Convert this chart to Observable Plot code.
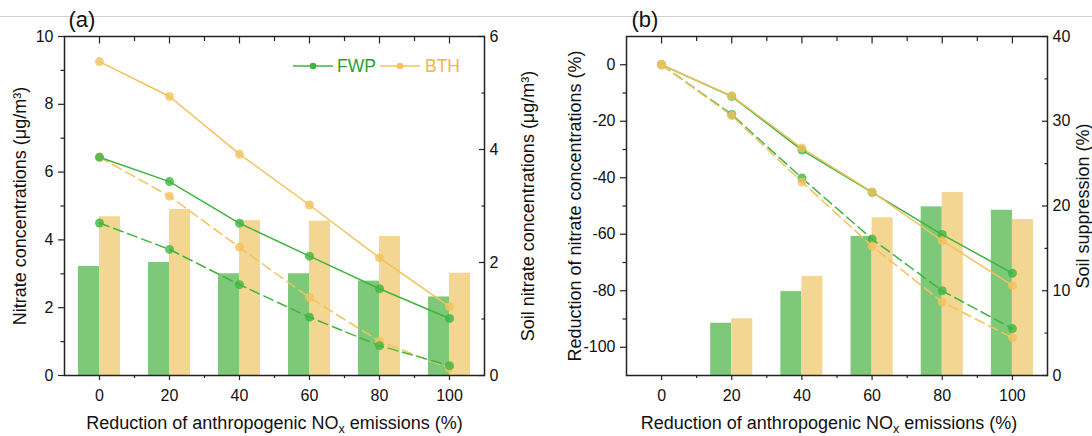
<!DOCTYPE html>
<html>
<head>
<meta charset="utf-8">
<script src="https://cdn.jsdelivr.net/npm/d3@7"></script>
<script src="https://cdn.jsdelivr.net/npm/@observablehq/plot@0.6"></script>
<style>
  body { margin: 0; background: #fff; }
  #wrap { position: relative; width: 1092px; height: 436px; overflow: hidden; background: #fff;
          font-family: 'Liberation Sans', Arial, sans-serif; }
  #topline { position: absolute; left: 0; top: 16px; width: 1092px; height: 1px; background: #cfcfcf; }
</style>
</head>
<body>
<div id="wrap"><div id="topline"></div></div>
<script>
// ---------------- data ----------------
const seriesNames = ["FWP", "BTH"];
const reduction = [0, 20, 40, 60, 80, 100];

// panel (a): nitrate concentrations (µg/m3), left axis
const fwpSolidA = [6.44, 5.72, 4.49, 3.52, 2.56, 1.68];
const bthSolidA = [9.26, 8.23, 6.53, 5.03, 3.47, 2.03];
const fwpDashA  = [4.50, 3.72, 2.68, 1.72, 0.88, 0.29];
const bthDashA  = [6.44, 5.29, 3.78, 2.30, 1.01, 0.22];
// panel (a): soil nitrate concentrations (µg/m3), right axis (bars)
const fwpSoilA  = [1.93, 2.00, 1.80, 1.80, 1.67, 1.39];
const bthSoilA  = [2.81, 2.94, 2.74, 2.73, 2.46, 1.81];

// panel (b): reduction of nitrate concentrations (%), left axis
const fwpSolidB = [0, -11.2, -30.2, -45.2, -60.1, -73.8];
const bthSolidB = [0, -11.0, -29.5, -45.0, -62.3, -78.1];
const fwpDashB  = [0, -17.6, -40.1, -61.7, -80.0, -93.4];
const bthDashB  = [0, -18.0, -41.5, -64.2, -84.0, -96.6];
// panel (b): soil suppression (%), right axis (bars)
const fwpSuppB  = [0, 6.17, 9.9, 16.4, 19.9, 19.5];
const bthSuppB  = [0, 6.69, 11.7, 18.6, 21.6, 18.4];

// ticks
const xTicks = [0, 20, 40, 60, 80, 100];
const xMinor = [10, 30, 50, 70, 90];
const yTicksA = [0, 2, 4, 6, 8, 10], yMinorA = [1, 3, 5, 7, 9];
const yRTicksA = [0, 2, 4, 6], yRMinorA = [1, 3, 5];
const yTicksB = [0, -20, -40, -60, -80, -100], yMinorB = [-10, -30, -50, -70, -90];
const yRTicksB = [0, 10, 20, 30, 40], yRMinorB = [5, 15, 25, 35];

// ---------------- style ----------------
const W = 1092, H = 436, MT = 36, MB = 61;
const FONT = "'Liberation Sans', Arial, sans-serif";
const GREEN = "#3fb540", YELLOW = "#f2c25e";
const GREEN_BAR = "#7ec87a", YELLOW_BAR = "#f4d693";
const GREEN_TXT = "#2ca02c", YELLOW_TXT = "#efb73e";
const INK = "#222";
const BARW = 6;
const TICKFS = 16, TITLEFS = 18;
const fmt = d => String(d);

const wrap = document.getElementById("wrap");
const tbl = (vals) => reduction.map((x, i) => ({x, v: vals[i]}));

function layer(ml, mr, yDomain, marks, extraX = {}) {
  const svg = Plot.plot({
    width: W, height: H,
    marginTop: MT, marginBottom: MB, marginLeft: ml, marginRight: mr,
    x: {domain: [-10, 110], ...extraX},
    y: {domain: yDomain},
    style: {fontFamily: FONT, fontSize: "16px", color: "#111", background: "transparent", overflow: "visible"},
    marks
  });
  svg.style.position = "absolute";
  svg.style.left = "0px";
  svg.style.top = "0px";
  wrap.appendChild(svg);
  return svg;
}

function panel(cfg) {
  // back layer: bars on right axis
  layer(cfg.ml, cfg.mr, cfg.yR, [
    Plot.rectY(tbl(cfg.barsG), {x1: d => d.x - BARW, x2: d => d.x, y1: 0, y2: d => d.v, fill: GREEN_BAR}),
    Plot.rectY(tbl(cfg.barsY), {x1: d => d.x, x2: d => d.x + BARW, y1: 0, y2: d => d.v, fill: YELLOW_BAR}),
    Plot.axisY({anchor: "right", ticks: cfg.yRTicks, tickSize: -6, fill: "none", stroke: INK, strokeWidth: 1.2}),
    Plot.axisY({anchor: "right", ticks: cfg.yRMinor, tickSize: -3.5, fill: "none", stroke: INK, strokeWidth: 1.2}),
    Plot.axisY({anchor: "right", ticks: cfg.yRTicks, tickSize: 0, tickPadding: 5, label: null,
      tickFormat: fmt, fontSize: TICKFS}),
    Plot.text([cfg.rightTitle], {text: d => d, frameAnchor: "right", rotate: -90, dx: cfg.rightOff,
      textAnchor: "middle", lineAnchor: "middle", fontSize: TITLEFS})
  ], {axis: null});

  // front layer: lines, points, left axis, x axes, frame
  const lineMarks = cfg.order.flatMap(k => {
    const s = cfg.series[k];
    return [
      Plot.line(tbl(s.solid), {x: "x", y: "v", stroke: s.color, strokeWidth: 1.5}),
      Plot.line(tbl(s.dash), {x: "x", y: "v", stroke: s.color, strokeWidth: 1.5, strokeDasharray: "10,5"})
    ];
  });
  const dotMarks = cfg.order.flatMap(k => {
    const s = cfg.series[k];
    return [
      Plot.dot(tbl(s.solid), {x: "x", y: "v", r: 4.5, fill: s.color, fillOpacity: 0.8}),
      Plot.dot(tbl(s.dash), {x: "x", y: "v", r: 4.5, fill: s.color, fillOpacity: 0.8})
    ];
  });
  const svg = layer(cfg.ml, cfg.mr, cfg.yL, [
    ...lineMarks,
    ...dotMarks,
    Plot.frame({stroke: INK, strokeWidth: 1.5}),
    Plot.axisX({anchor: "bottom", ticks: xTicks, tickSize: 5, tickPadding: 9, stroke: INK, strokeWidth: 1.2,
      label: null, tickFormat: fmt, fontSize: TICKFS}),
    Plot.axisX({anchor: "bottom", ticks: xMinor, tickSize: 3, fill: "none", stroke: INK, strokeWidth: 1.2}),
    Plot.axisX({anchor: "top", ticks: xTicks, tickSize: -6.5, fill: "none", stroke: INK, strokeWidth: 1.2}),
    Plot.axisX({anchor: "top", ticks: xMinor, tickSize: -4, fill: "none", stroke: INK, strokeWidth: 1.2}),
    Plot.axisY({anchor: "left", ticks: cfg.yTicks, tickSize: 6, tickPadding: 5, stroke: INK, strokeWidth: 1.2,
      label: null, tickFormat: fmt, fontSize: TICKFS}),
    Plot.axisY({anchor: "left", ticks: cfg.yMinor, tickSize: 3.5, fill: "none", stroke: INK, strokeWidth: 1.2}),
    Plot.text([cfg.leftTitle], {text: d => d, frameAnchor: "left", rotate: -90, dx: cfg.leftOff,
      textAnchor: "middle", lineAnchor: "middle", fontSize: TITLEFS}),
    Plot.text([cfg.xTitle], {text: d => d, frameAnchor: "bottom", dy: 48, dx: cfg.xTitleDx,
      textAnchor: "middle", lineAnchor: "middle", fontSize: TITLEFS}),
    Plot.text([cfg.tag], {text: d => d, frameAnchor: "top-left", dx: cfg.tagDx, dy: -17,
      textAnchor: "start", lineAnchor: "middle", fontSize: 22})
  ]);
  // subscript x in NOx
  svg.querySelectorAll("text").forEach(t => {
    if (t.childElementCount === 0 && t.textContent.includes("NOx")) {
      const [a, b] = t.textContent.split("NOx");
      t.textContent = "";
      const ns = "http://www.w3.org/2000/svg";
      const t1 = document.createElementNS(ns, "tspan"); t1.textContent = a + "NO";
      const t2 = document.createElementNS(ns, "tspan"); t2.textContent = "x";
      t2.setAttribute("dy", "4"); t2.setAttribute("font-size", "12.5");
      const t3 = document.createElementNS(ns, "tspan"); t3.textContent = b; t3.setAttribute("dy", "-4");
      t.append(t1, t2, t3);
    }
  });
  return svg;
}

const xTitle = "Reduction of anthropogenic NOx emissions (%)";

panel({
  ml: 64, mr: W - 484, yL: [0, 10], yR: [0, 6],
  yTicks: yTicksA, yMinor: yMinorA, yRTicks: yRTicksA, yRMinor: yRMinorA,
  barsG: fwpSoilA, barsY: bthSoilA,
  series: {
    FWP: {solid: fwpSolidA, dash: fwpDashA, color: GREEN},
    BTH: {solid: bthSolidA, dash: bthDashA, color: YELLOW}
  },
  order: ["BTH", "FWP"],
  leftTitle: "Nitrate concentrations (μg/m³)", leftOff: -44,
  rightTitle: "Soil nitrate concentrations (μg/m³)", rightOff: 44,
  xTitle, xTitleDx: 0, tag: "(a)", tagDx: 4
});

panel({
  ml: 626, mr: W - 1047, yL: [-110, 10], yR: [0, 40],
  yTicks: yTicksB, yMinor: yMinorB, yRTicks: yRTicksB, yRMinor: yRMinorB,
  barsG: fwpSuppB, barsY: bthSuppB,
  series: {
    FWP: {solid: fwpSolidB, dash: fwpDashB, color: GREEN},
    BTH: {solid: bthSolidB, dash: bthDashB, color: YELLOW}
  },
  order: ["FWP", "BTH"],
  leftTitle: "Reduction of nitrate concentrations (%)", leftOff: -51,
  rightTitle: "Soil suppression (%)", rightOff: 36,
  xTitle, xTitleDx: -8, tag: "(b)", tagDx: 5
});

// legend (panel a)
(function legend() {
  const ns = "http://www.w3.org/2000/svg";
  const svg = document.createElementNS(ns, "svg");
  svg.setAttribute("width", W); svg.setAttribute("height", H);
  svg.style.position = "absolute"; svg.style.left = "0px"; svg.style.top = "0px";
  const items = [
    {name: seriesNames[0], color: GREEN, txt: GREEN_TXT, x0: 293, tx: 337},
    {name: seriesNames[1], color: YELLOW, txt: YELLOW_TXT, x0: 380, tx: 425}
  ];
  const y = 66;
  items.forEach(it => {
    const l = document.createElementNS(ns, "line");
    l.setAttribute("x1", it.x0); l.setAttribute("x2", it.x0 + 40);
    l.setAttribute("y1", y); l.setAttribute("y2", y);
    l.setAttribute("stroke", it.color); l.setAttribute("stroke-width", "1.5");
    const c = document.createElementNS(ns, "circle");
    c.setAttribute("cx", it.x0 + 20); c.setAttribute("cy", y); c.setAttribute("r", "3.3");
    c.setAttribute("fill", it.color);
    const t = document.createElementNS(ns, "text");
    t.setAttribute("x", it.tx); t.setAttribute("y", y + 6);
    t.setAttribute("fill", it.txt); t.setAttribute("font-size", "17.5");
    t.setAttribute("font-family", FONT);
    t.textContent = it.name;
    svg.append(l, c, t);
  });
  wrap.appendChild(svg);
})();
</script>
</body>
</html>
